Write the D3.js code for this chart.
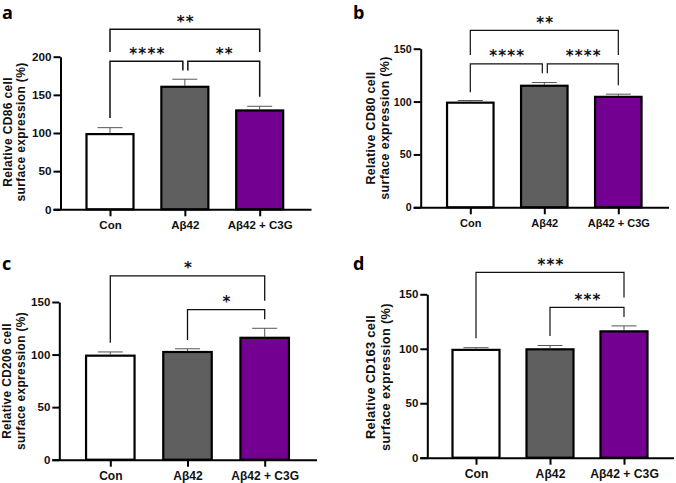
<!DOCTYPE html>
<html>
<head>
<meta charset="utf-8">
<script src="https://cdn.jsdelivr.net/npm/d3@7"></script>
<style>
  body { margin: 0; background: #fff; }
  text { font-family: "Liberation Sans", Arial, sans-serif; font-weight: bold; fill: #111; }
</style>
</head>
<body>
<div id="visualization"></div>
<script>
const totalWidth = 676;
const totalHeight = 483;

// Values.
const groups = ["Con", "Aβ42", "Aβ42 + C3G"];

const cd86Means = [100, 162, 131];
const cd86Tops = [107, 170.5, 135];
const cd86Ticks = [0, 50, 100, 150, 200];

const cd80Means = [100, 116, 105.5];
const cd80Tops = [101, 118, 107];
const cd80Ticks = [0, 50, 100, 150];

const cd206Means = [100, 103.5, 117];
const cd206Tops = [102.5, 105.5, 125];
const cd206Ticks = [0, 50, 100, 150];

const cd163Means = [100, 100.5, 117];
const cd163Tops = [101, 103, 121];
const cd163Ticks = [0, 50, 100, 150];

// Significance brackets: group from, group to, level, left leg end, right leg end, stars (y in data units).
const cd86Brackets = [
  [0, 2, 236, 206, 206, "**"],
  [0, 1, 194, 119.5, 182, "****"],
  [1, 2, 194, 182, 147.5, "**"]
];
const cd80Brackets = [
  [0, 2, 167.4, 144, 144, "**"],
  [0, 1, 135.6, 108.8, 126.8, "****"],
  [1, 2, 135.6, 126.8, 115.4, "****"]
];
const cd206Brackets = [
  [0, 2, 174.8, 111.3, 151.3, "*"],
  [1, 2, 142.7, 113.9, 133.6, "*"]
];
const cd163Brackets = [
  [0, 2, 170.2, 109.6, 147, "***"],
  [1, 2, 138, 111.7, 129.2, "***"]
];

const barColors = ["#ffffff", "#5f5f5f", "#730090"];

// Panel layout, pixels in the page.
const panels = [
  {letter: "a", letterX: 2, letterY: 19, marker: "CD86", means: cd86Means, tops: cd86Tops, ticks: cd86Ticks, brackets: cd86Brackets,
   max: 200, axisX: 60.5, y0: 209.3, yTop: 56.7, endX: 311.5, first: 110, last: 259.7, barW: 47,
   labelX: 8, labelGap: 13, labelY: 132, tickFont: 11.7, xFont: 11.5, labelFont: 12, bracketW: 1.5},
  {letter: "b", letterX: 353, letterY: 19, marker: "CD80", means: cd80Means, tops: cd80Tops, ticks: cd80Ticks, brackets: cd80Brackets,
   max: 150, axisX: 420.7, y0: 207.3, yTop: 48.7, endX: 669, first: 470.3, last: 618.3, barW: 46.5,
   labelX: 371, labelGap: 14, labelY: 128, tickFont: 10.7, xFont: 11, labelFont: 12.4, bracketW: 1.2},
  {letter: "c", letterX: 2, letterY: 270, marker: "CD206", means: cd206Means, tops: cd206Tops, ticks: cd206Ticks, brackets: cd206Brackets,
   max: 150, axisX: 59.3, y0: 459.7, yTop: 302, endX: 317, first: 110.3, last: 264.7, barW: 48.5,
   labelX: 7, labelGap: 14, labelY: 381, tickFont: 11.5, xFont: 12, labelFont: 11.9, bracketW: 1.3},
  {letter: "d", letterX: 353, letterY: 270, marker: "CD163", means: cd163Means, tops: cd163Tops, ticks: cd163Ticks, brackets: cd163Brackets,
   max: 150, axisX: 427.3, y0: 457.7, yTop: 294.3, endX: 674, first: 476, last: 624, barW: 47,
   labelX: 371, labelGap: 15, labelY: 377, tickFont: 11.5, xFont: 12.2, labelFont: 12.8, bracketW: 1.2}
];

const svg = d3.select("#visualization")
  .append("svg")
  .attr("width", totalWidth)
  .attr("height", totalHeight)
  .style("display", "block");

panels.forEach(function(p) {
  const g = svg.append("g");

  const x = d3.scalePoint().domain(d3.range(groups.length)).range([p.first, p.last]);
  const y = d3.scaleLinear().domain([0, p.max]).range([p.y0, p.yTop]);

  // Panel letter.
  g.append("text")
    .attr("x", p.letterX)
    .attr("y", p.letterY)
    .style("font-family", "'Open Sans', sans-serif")
    .style("font-size", "18px")
    .style("fill", "#000")
    .text(p.letter);

  // Error bars, upper side only.
  g.selectAll(".whisker")
    .data(p.tops)
    .join("path")
      .attr("class", "whisker")
      .attr("d", (d, i) => `M${x(i)},${y(p.means[i])}V${y(d)}M${x(i) - 12.5},${y(d)}H${x(i) + 12.5}`)
      .attr("fill", "none")
      .attr("stroke", "#555")
      .attr("stroke-width", 1);

  // Bars, outline sits inside the value.
  g.selectAll(".bar")
    .data(p.means)
    .join("rect")
      .attr("class", "bar")
      .attr("x", (d, i) => x(i) - p.barW / 2)
      .attr("y", d => y(d) + 1.1)
      .attr("width", p.barW)
      .attr("height", d => y(0) - y(d) - 1.1)
      .attr("fill", (d, i) => barColors[i])
      .attr("stroke", "#000")
      .attr("stroke-width", 2.2);

  // Axes.
  const yAxis = g.append("g")
    .attr("transform", `translate(${p.axisX},0)`)
    .call(d3.axisLeft(y).tickValues(p.ticks).tickSize(7).tickPadding(2).tickSizeOuter(0));
  yAxis.selectAll("text").style("font-size", p.tickFont + "px");

  const xAxis = g.append("g")
    .attr("transform", `translate(0,${p.y0})`)
    .call(d3.axisBottom(x).tickFormat(i => groups[i]).tickSize(7).tickPadding(5).tickSizeOuter(0));
  xAxis.selectAll("text").style("font-size", p.xFont + "px");
  xAxis.select(".domain").attr("d", `M${p.axisX - 7},0.5H${p.endX}`);

  [yAxis, xAxis].forEach(function(a) {
    a.selectAll(".domain, .tick line").attr("stroke", "#000").attr("stroke-width", 2);
  });

  // Two line y label.
  const labelLines = [`Relative ${p.marker} cell`, "surface expression (%)"];
  labelLines.forEach(function(line, i) {
    g.append("text")
      .attr("transform", `translate(${p.labelX + 4 + i * p.labelGap},${p.labelY}) rotate(-90)`)
      .attr("text-anchor", "middle")
      .style("font-size", p.labelFont + "px")
      .style("letter-spacing", "0.35px")
      .text(line);
  });

  // Brackets with stars. Neighbouring brackets leave a small gap over the middle bar.
  p.brackets.forEach(function(b) {
    const adjacent = b[1] - b[0] === 1 && p.brackets.length === 3;
    const x1 = x(b[0]) + (adjacent && b[0] === 1 ? 3 : 0);
    const x2 = x(b[1]) - (adjacent && b[1] === 1 ? 2 : 0);
    g.append("path")
      .attr("d", `M${x1},${y(b[3])}V${y(b[2])}H${x2}V${y(b[4])}`)
      .attr("fill", "none")
      .attr("stroke", "#111")
      .attr("stroke-width", p.bracketW);
    g.append("text")
      .attr("x", (x1 + x2) / 2 + 1)
      .attr("y", y(b[2]) - 2.5)
      .attr("text-anchor", "middle")
      .style("font-family", "'DejaVu Sans', sans-serif")
      .style("font-size", "15px")
      .style("letter-spacing", "1.2px")
      .text(b[5]);
  });
});
</script>
</body>
</html>
